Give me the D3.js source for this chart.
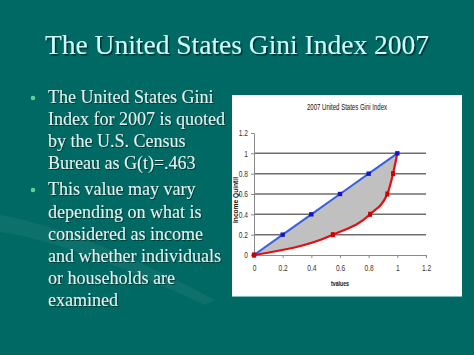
<!DOCTYPE html>
<html><head><meta charset="utf-8">
<script src="https://cdn.jsdelivr.net/npm/d3@7"></script>
<style>html,body{margin:0;padding:0;background:#006963;}svg{display:block;}
.serif{font-family:"Liberation Serif","Times New Roman","DejaVu Serif",serif;}
.sans{font-family:"Liberation Sans",Arial,sans-serif;}
</style>
</head><body>
<svg id="c" width="474" height="355"></svg>
<script>
// ---- data ----
const slideTitle = "The United States Gini Index 2007";
const bullet1 = ["The United States Gini", "Index for 2007 is quoted", "by the U.S. Census", "Bureau as G(t)=.463"];
const bullet2 = ["This value may vary", "depending on what is", "considered as income", "and whether individuals", "or households are", "examined"];
const chartTitle = "2007 United States Gini Index";
const xAxisTitle = "tvalues";
const yAxisTitle = "Income Quintil";
const tickValues = [0, 0.2, 0.4, 0.6, 0.8, 1, 1.2];
const equalityX = [0, 0.2, 0.4, 0.6, 0.8, 1];
const equalityY = [0, 0.2, 0.4, 0.6, 0.8, 1];
const lorenzX = [0, 0.55, 0.81, 0.93, 0.97, 1];
const lorenzY = [0, 0.2, 0.4, 0.6, 0.8, 1];

const svg = d3.select("#c");
const defs = svg.append("defs");
const f = defs.append("filter").attr("id", "sh").attr("x", "-5%").attr("y", "-20%").attr("width", "110%").attr("height", "150%");
f.append("feDropShadow").attr("dx", 1.5).attr("dy", 1.5).attr("stdDeviation", 0.4).attr("flood-color", "#062a27").attr("flood-opacity", 0.9);
const f2 = defs.append("filter").attr("id", "sh2").attr("x", "-5%").attr("y", "-20%").attr("width", "110%").attr("height", "150%");
f2.append("feDropShadow").attr("dx", 1).attr("dy", 1).attr("stdDeviation", 0.3).attr("flood-color", "#06302c").attr("flood-opacity", 0.8);

svg.append("rect").attr("width", 474).attr("height", 355).attr("fill", "#006963");
// faint swoosh in background
svg.append("path")
  .attr("d", "M0,215 C60,225 140,260 215,300 L205,305 C140,275 60,240 0,232 Z")
  .attr("fill", "#ffffff").attr("opacity", 0.05);

// slide title
svg.append("text").attr("class", "serif").attr("x", 237).attr("y", 54).attr("text-anchor", "middle")
  .attr("font-size", 27.5)
  .attr("fill", "#ccffff").attr("filter", "url(#sh)").text(slideTitle);

// bullets
const lineCenters1 = [97, 119, 141, 163];
const lineCenters2 = [189, 212, 234, 256, 278, 300];
function drawLines(lines, centers) {
  lines.forEach((t, i) => {
    svg.append("text").attr("class", "serif").attr("x", 48).attr("y", centers[i] + 6)
      .attr("font-size", 18)
      .attr("fill", "#e6f2f0").attr("filter", "url(#sh2)").text(t);
  });
}
drawLines(bullet1, lineCenters1);
drawLines(bullet2, lineCenters2);
[lineCenters1[0], lineCenters2[0]].forEach(cy => {
  svg.append("circle").attr("cx", 33).attr("cy", cy + 1).attr("r", 2.3).attr("fill", "#66cc99");
});

// chart box
svg.append("rect").attr("x", 232).attr("y", 95).attr("width", 230).attr("height", 201)
  .attr("fill", "#ffffff");
svg.append("line").attr("x1", 232).attr("x2", 462).attr("y1", 296.5).attr("y2", 296.5)
  .attr("stroke", "#7fbfbb").attr("stroke-width", 1);

const x = d3.scaleLinear().domain([0, 1.2]).range([254, 426]);
const y = d3.scaleLinear().domain([0, 1.2]).range([255, 133]);
const fmt = d => String(+d.toFixed(1));

// gridlines
svg.append("g").selectAll("line").data(tickValues.filter(v => v > 0 && v < 1.2)).join("line")
  .attr("x1", x(0)).attr("x2", x(1.2)).attr("y1", d => y(d)).attr("y2", d => y(d))
  .attr("stroke", "#6e6e6e").attr("stroke-width", 1.5);

// shaded area between curves
const eqPts = equalityX.map((v, i) => [x(v), y(equalityY[i])]);
const lzPts = lorenzX.map((v, i) => [x(v), y(lorenzY[i])]);
const redLine = d3.line().curve(d3.curveMonotoneX);
const blueLine = d3.line();
const areaPath = redLine(lzPts) + "L" + blueLine(eqPts.slice().reverse()).slice(1) + "Z";
svg.append("path").attr("d", areaPath).attr("fill", "#c0c0c0");

// axes
const sx = 0.78;
const yAxis = svg.append("g").attr("transform", `translate(${x(0)},0)`)
  .call(d3.axisLeft(y).tickValues(tickValues).tickSize(3).tickSizeOuter(0).tickFormat(fmt));
const xAxis = svg.append("g").attr("transform", `translate(0,${y(0)})`)
  .call(d3.axisBottom(x).tickValues(tickValues).tickSize(3).tickSizeOuter(0).tickFormat(fmt));
[xAxis, yAxis].forEach(a => {
  a.select(".domain").attr("stroke", "#8a8a8a");
  a.selectAll(".tick line").attr("stroke", "#8a8a8a");
  a.selectAll(".tick text").attr("font-family", "Liberation Sans, sans-serif")
    .attr("font-size", 8.5).attr("fill", "#333").attr("transform", `scale(${sx},1)`);
});
xAxis.selectAll(".tick text").attr("dy", "1.2em");
yAxis.selectAll(".tick text").attr("x", -6 / sx);

// lines
svg.append("path").attr("d", blueLine(eqPts)).attr("fill", "none")
  .attr("stroke", "#3a5fe0").attr("stroke-width", 2);
svg.append("path").attr("d", redLine(lzPts)).attr("fill", "none")
  .attr("stroke", "#e01010").attr("stroke-width", 2.2);

// markers
svg.append("g").selectAll("rect").data(eqPts).join("rect")
  .attr("x", d => d[0] - 2.2).attr("y", d => d[1] - 2.2).attr("width", 4.4).attr("height", 4.4)
  .attr("fill", "#1414c8");
svg.append("g").selectAll("rect").data(lzPts.slice(0, -1)).join("rect")
  .attr("x", d => d[0] - 2).attr("y", d => d[1] - 2.5).attr("width", 4).attr("height", 5)
  .attr("fill", "#d00000");

// chart titles
svg.append("text").attr("class", "sans").attr("x", 347).attr("y", 110).attr("text-anchor", "middle")
  .attr("font-size", 9)
  .attr("textLength", 80).attr("lengthAdjust", "spacingAndGlyphs")
  .attr("fill", "#111").text(chartTitle);
svg.append("text").attr("class", "sans").attr("x", 340).attr("y", 286).attr("text-anchor", "middle")
  .attr("font-size", 8).attr("font-weight", "bold")
  .attr("textLength", 18).attr("lengthAdjust", "spacingAndGlyphs")
  .attr("fill", "#111").text(xAxisTitle);
svg.append("text").attr("class", "sans").attr("transform", "translate(238,200) rotate(-90)").attr("text-anchor", "middle")
  .attr("font-size", 7.5).attr("font-weight", "bold")
  .attr("textLength", 46).attr("lengthAdjust", "spacingAndGlyphs")
  .attr("fill", "#111").text(yAxisTitle);
</script>
</body></html>
